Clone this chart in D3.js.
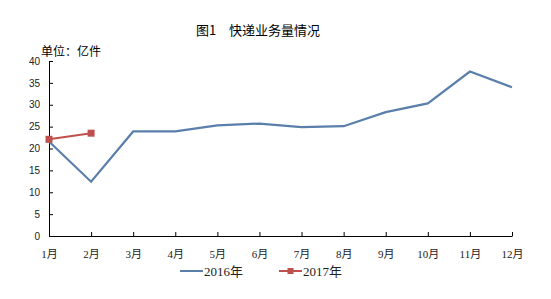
<!DOCTYPE html>
<html lang="zh">
<head>
<meta charset="utf-8">
<title>快递业务量情况</title>
<script src="https://d3js.org/d3.v7.min.js"></script>
<style>
  body { margin: 0; background: #fff; }
  svg { display: block; }
</style>
</head>
<body>
<script>
// data
var months = ["1月","2月","3月","4月","5月","6月","7月","8月","9月","10月","11月","12月"];
var values2016 = [21.6, 12.4, 23.9, 23.9, 25.3, 25.7, 24.9, 25.1, 28.3, 30.3, 37.6, 34.0];
var values2017 = [22.1, 23.5];
var yTicks = [0, 5, 10, 15, 20, 25, 30, 35, 40];
var seriesNames = ["2016年", "2017年"];
var colors = ["#5b7fab", "#c0504d"];

var w = 551, h = 299;
var plotLeft = 49, plotRight = 512, plotTop = 61, plotBottom = 236;

var svg = d3.select("body").append("svg")
  .attr("width", w)
  .attr("height", h);

var x = d3.scalePoint().domain(months).range([plotLeft, plotRight]);
var y = d3.scaleLinear().domain([0, 40]).range([plotBottom, plotTop]);

// title
svg.append("text")
  .attr("x", 258).attr("y", 35)
  .attr("text-anchor", "middle")
  .style("font-family", "'Noto Sans CJK SC'")
  .style("font-size", "13px")
  .text("图1\u3000快递业务量情况");

svg.append("text")
  .attr("x", 41).attr("y", 56)
  .style("font-family", "'Noto Sans CJK SC'")
  .style("font-size", "12px")
  .text("单位：亿件");

// axes (ticks inside)
var yAxis = d3.axisLeft(y).tickValues(yTicks).tickSize(-4).tickPadding(9);
var gy = svg.append("g")
  .attr("transform", "translate(" + plotLeft + ",0)")
  .call(yAxis);
gy.selectAll("text")
  .style("font-family", "'Liberation Sans'")
  .style("font-size", "10px")
  .attr("fill", "#222");

var xAxis = d3.axisBottom(x).tickSize(-4).tickPadding(14).tickSizeOuter(0);
var gx = svg.append("g")
  .attr("transform", "translate(0," + plotBottom + ")")
  .call(xAxis);
gx.selectAll("text")
  .style("font-family", "'Liberation Serif', 'Noto Sans CJK SC'")
  .style("font-size", "11px")
  .attr("fill", "#222");

svg.selectAll(".domain, .tick line").attr("stroke", "#000");

// lines
var line = d3.line()
  .x(function(d, i) { return x(months[i]); })
  .y(function(d) { return y(d); });

svg.append("path")
  .datum(values2016)
  .attr("d", line)
  .attr("fill", "none")
  .attr("stroke", colors[0])
  .attr("stroke-width", 2.2);

svg.append("path")
  .datum(values2017)
  .attr("d", line)
  .attr("fill", "none")
  .attr("stroke", colors[1])
  .attr("stroke-width", 2);

svg.selectAll(".m2017")
  .data(values2017)
  .enter()
  .append("rect")
  .attr("x", function(d, i) { return x(months[i]) - 3.5; })
  .attr("y", function(d) { return y(d) - 3.5; })
  .attr("width", 7).attr("height", 7)
  .attr("fill", colors[1]);

// legend
var legend = svg.append("g").attr("transform", "translate(180,271)");
var items = legend.selectAll("g")
  .data(seriesNames)
  .enter()
  .append("g")
  .attr("transform", function(d, i) { return "translate(" + (i * 99) + ",0)"; });
items.append("line")
  .attr("x1", 0).attr("x2", 23)
  .attr("stroke", function(d, i) { return colors[i]; })
  .attr("stroke-width", 2);
items.filter(function(d, i) { return i === 1; })
  .append("rect")
  .attr("x", 8.5).attr("y", -3).attr("width", 6).attr("height", 6)
  .attr("fill", colors[1]);
items.append("text")
  .attr("x", 24).attr("y", 5)
  .style("font-family", "'Liberation Serif', 'Noto Sans CJK SC'")
  .style("font-size", "13px")
  .attr("fill", "#222")
  .text(function(d) { return d; });
</script>
</body>
</html>
